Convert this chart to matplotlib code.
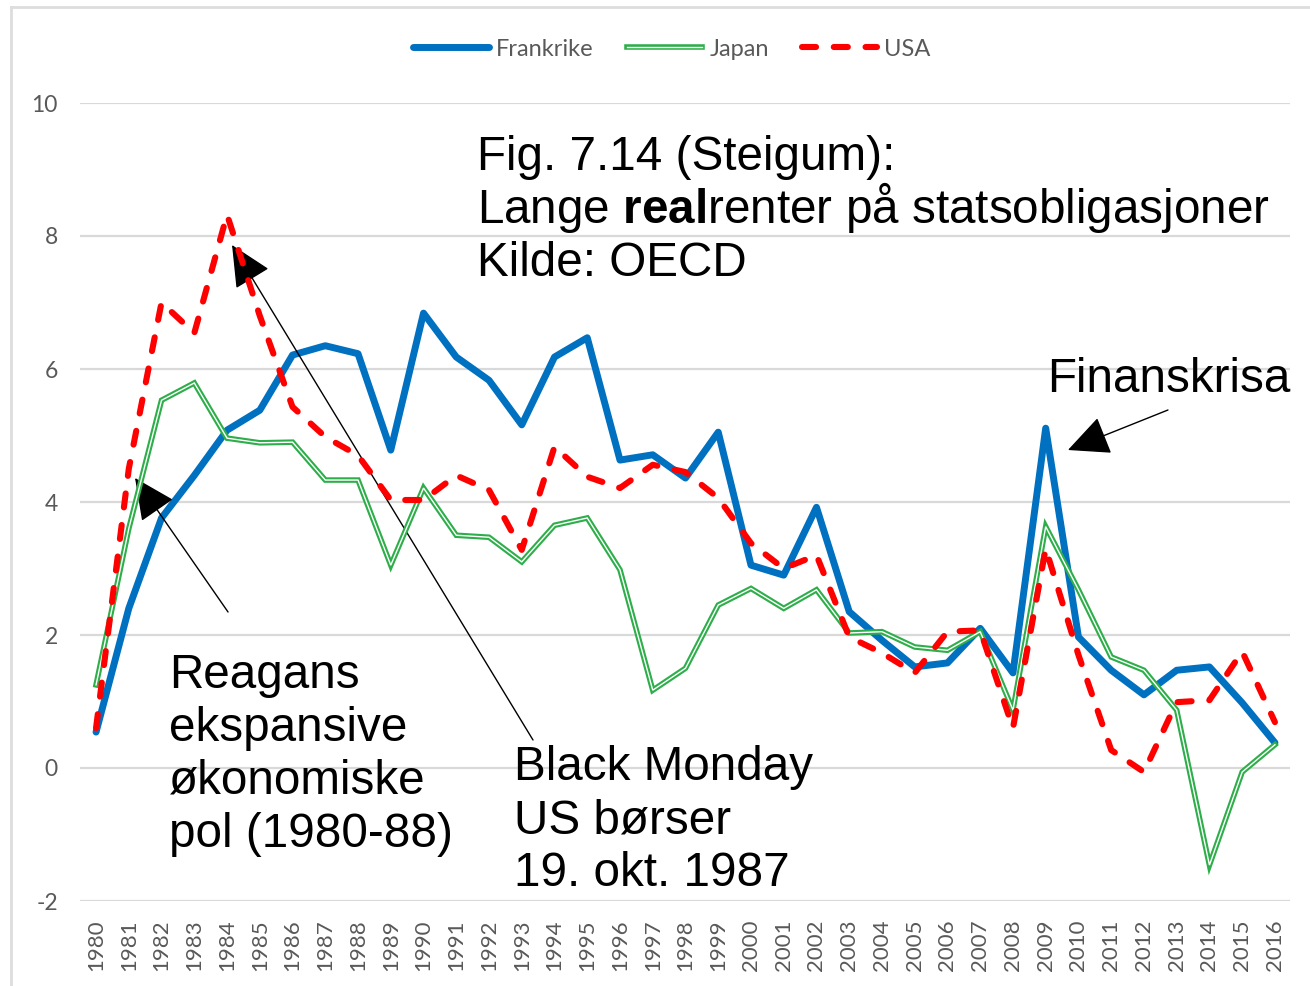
import matplotlib
matplotlib.use("Agg")
import matplotlib.pyplot as plt
from matplotlib.lines import Line2D
import matplotlib.patheffects as pe

years = list(range(1980, 2017))
frankrike = [0.54, 2.4, 3.76, 4.4, 5.08, 5.38, 6.21, 6.35, 6.23, 4.78, 6.84, 6.18, 5.83, 5.16,
             6.18, 6.47, 4.63, 4.71, 4.36, 5.05, 3.05, 2.90, 3.92, 2.35, 1.92, 1.52, 1.58, 2.10,
             1.43, 5.11, 1.97, 1.47, 1.10, 1.47, 1.52, 0.98, 0.38]
japan = [1.25, 3.6, 5.53, 5.79, 4.96, 4.89, 4.90, 4.33, 4.33, 3.05, 4.21, 3.50, 3.47, 3.10,
         3.65, 3.76, 2.98, 1.17, 1.50, 2.45, 2.70, 2.40, 2.68, 2.03, 2.05, 1.82, 1.77, 2.05,
         0.87, 3.63, 2.68, 1.67, 1.47, 0.87, -1.46, -0.06, 0.35]
usa = [0.60, 4.5, 7.00, 6.54, 8.32, 6.80, 5.43, 4.98, 4.70, 4.03, 4.03, 4.40, 4.18, 3.28,
       4.83, 4.38, 4.21, 4.56, 4.45, 4.06, 3.38, 3.00, 3.20, 1.97, 1.73, 1.43, 2.05, 2.07,
       0.60, 3.30, 1.70, 0.27, -0.06, 0.99, 1.02, 1.75, 0.69]
series_names = ["Frankrike", "Japan", "USA"]
yticks = [-2, 0, 2, 4, 6, 8, 10]

W, H = 1310, 986
fig = plt.figure(figsize=(W / 100, H / 100), dpi=100)
ax = fig.add_axes([80 / W, 1 - 901 / H, 1210 / W, 798 / H])

plt.rcParams['mathtext.fontset'] = 'custom'
plt.rcParams['mathtext.rm'] = 'Liberation Sans'
plt.rcParams['mathtext.bf'] = 'Liberation Sans:bold'

blue = '#0070C0'
green = '#2EAE4A'
red = '#FF0000'

ax.plot(years, frankrike, color=blue, lw=5, solid_joinstyle='round',
        solid_capstyle='round', label=series_names[0], zorder=3)
ax.plot(years, japan, color='white', lw=1.0, solid_joinstyle='miter',
        label=series_names[1], zorder=4,
        path_effects=[pe.Stroke(linewidth=4.0, foreground=green), pe.Normal()])
ax.plot(years, usa, color=red, lw=4.4, ls=(0, (2.3, 2.9)), dash_capstyle='round',
        label=series_names[2], zorder=5)

ax.set_xlim(1979.51, 2016.46)
ax.set_ylim(-2, 10)
ax.set_yticks(yticks)
ax.set_yticklabels([str(v) for v in yticks])
ax.set_xticks(years)
ax.set_xticklabels([str(y) for y in years], rotation=90)
ax.tick_params(axis='y', length=0, pad=16, labelsize=16.5, labelcolor='#595959')
ax.tick_params(axis='x', length=0, pad=13, labelsize=16, labelcolor='#595959')
for lab in ax.get_xticklabels() + ax.get_yticklabels():
    lab.set_fontfamily('Lato')
for s in ax.spines.values():
    s.set_visible(False)
ax.grid(axis='y', color='#d9d9d9', lw=1.6)
ax.set_axisbelow(True)

leg = fig.legend(loc='center', bbox_to_anchor=(0.513, 1 - 49 / H), ncol=3, frameon=False,
                 handlelength=3.2, handletextpad=0.3, columnspacing=1.4,
                 prop={'family': 'Lato', 'size': 17})
for t in leg.get_texts():
    t.set_color('#595959')

# figure frame
fig.add_artist(Line2D([11 / W, 11 / W], [0, 1 - 7 / H], transform=fig.transFigure,
                      color='#dddddd', lw=2))
fig.add_artist(Line2D([11 / W, 1], [1 - 7 / H, 1 - 7 / H], transform=fig.transFigure,
                      color='#dddddd', lw=2))

fs = 34.3
def lines(x, baselines, texts):
    for b, t in zip(baselines, texts):
        fig.text(x / W, 1 - b / H, t, ha='left', va='baseline', fontsize=fs,
                 family='Liberation Sans', color='black')

lines(477, [170, 223, 276], ["Fig. 7.14 (Steigum):",
                             r"Lange $\mathbf{real}$renter på statsobligasjoner",
                             "Kilde: OECD"])
lines(1047, [392], ["Finanskrisa"])
lines(169, [688, 741, 794, 847], ["Reagans", "ekspansive", "økonomiske", "pol (1980-88)"])
lines(514, [780, 833, 886], ["Black Monday", "US børser", "19. okt. 1987"])

ap = dict(arrowstyle='-|>,head_length=0.4,head_width=0.19', color='black', lw=1,
          mutation_scale=66, shrinkA=0, shrinkB=0)
def px2data(px, py):
    return (1980 + (px - 96) / 32.75, (768 - py) / 66.5)
ax.annotate('', xy=px2data(232, 245), xytext=px2data(533, 740), arrowprops=ap)
ax.annotate('', xy=px2data(135, 478), xytext=px2data(228, 612), arrowprops=ap)
ax.annotate('', xy=px2data(1068, 450), xytext=px2data(1168, 410), arrowprops=ap)

fig.savefig('out.png', dpi=100)
